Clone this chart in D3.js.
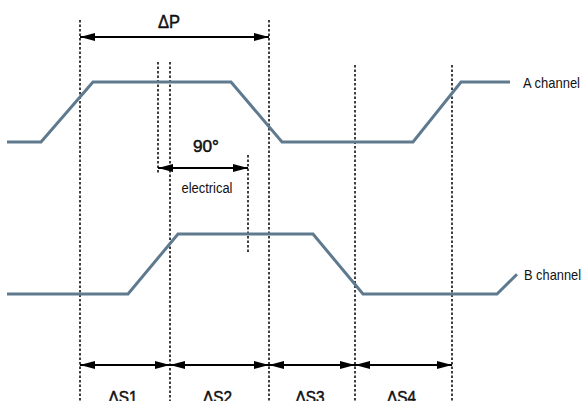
<!DOCTYPE html>
<html>
<head>
<meta charset="utf-8">
<script src="https://cdn.jsdelivr.net/npm/d3@7"></script>
<style>
  body { margin: 0; background: #fff; }
  text { font-family: "Liberation Sans", Arial, sans-serif; fill: #111; }
  text.medium { stroke: #111; stroke-width: 0.5px; }
</style>
</head>
<body>
<div class="chart"></div>
<script>
// svg dims
var width = 582;
var height = 401;

// signal vertices: [time, level]  (level 0 = low, 1 = high)
var channelA = [[7, 0], [41, 0], [93, 1], [231, 1], [282, 0], [413, 0], [461, 1], [510, 1]];
var channelB = [[7, 0], [128, 0], [178, 1], [313, 1], [363, 0], [497, 0], [517, 0.33]];
var channelNames = ["A channel", "B channel"];

// dashed guides: [time, top, bottom]
var guides = [[80, 20, 401], [269, 20, 401], [158, 62, 174], [170, 62, 401], [248, 155, 254], [355, 65, 401], [452, 65, 401]];

// dimension arrows
var periodArrow = [80, 269];
var phaseArrow = [158, 248];
var stepEdges = [80, 170, 269, 355, 452];
var stepLabels = ["ΔS1", "ΔS2", "ΔS3", "ΔS4"];

var svg = d3.select(".chart")
            .append("svg")
            .attr("width", width)
            .attr("height", height);

// scales
var xScale = d3.scaleLinear().domain([0, 582]).range([0, width]);
var yA = d3.scaleLinear().domain([0, 1]).range([142, 82]);
var yB = d3.scaleLinear().domain([0, 1]).range([294, 234]);

// arrowhead markers
var defs = svg.append("defs");
["start", "end"].forEach(k => {
  defs.append("marker")
      .attr("id", "arrow-" + k)
      .attr("viewBox", "0 0 15 8")
      .attr("refX", k == "end" ? 15 : 0)
      .attr("refY", 4)
      .attr("markerUnits", "userSpaceOnUse")
      .attr("markerWidth", 15)
      .attr("markerHeight", 8)
      .attr("orient", "auto")
      .append("path")
      .attr("d", k == "end" ? "M0,0L15,4L0,8Z" : "M15,0L0,4L15,8Z")
      .attr("fill", "#000");
});

// dashed guides
svg.append("g")
   .selectAll("line")
   .data(guides)
   .enter()
   .append("line")
   .attr("x1", d => xScale(d[0]))
   .attr("x2", d => xScale(d[0]))
   .attr("y1", d => d[1])
   .attr("y2", d => d[2])
   .attr("stroke", "#000")
   .attr("stroke-width", 1.5)
   .attr("stroke-dasharray", "2.5,2");

// signals
var line = d3.line();
[[channelA, yA], [channelB, yB]].forEach(s => {
  svg.append("path")
     .attr("d", line(s[0].map(p => [xScale(p[0]), s[1](p[1])])))
     .attr("fill", "none")
     .attr("stroke", "#5f7a8e")
     .attr("stroke-width", 3)
     .attr("stroke-linejoin", "miter");
});

// narrow text helper (condensed look via textLength)
function label(x, y, size, len, str, cls, anchor) {
  return svg.append("text")
            .attr("x", x).attr("y", y)
            .attr("text-anchor", anchor || "start")
            .attr("class", cls || null)
            .attr("textLength", len)
            .attr("lengthAdjust", "spacingAndGlyphs")
            .style("font-size", size + "px")
            .text(str);
}

// channel labels
label(523, 88, 15, 57, channelNames[0]);
label(524, 280, 15, 57, channelNames[1]);

function arrow(x0, x1, y) {
  svg.append("line")
     .attr("x1", xScale(x0)).attr("x2", xScale(x1))
     .attr("y1", y).attr("y2", y)
     .attr("stroke", "#000")
     .attr("stroke-width", 2)
     .attr("marker-start", "url(#arrow-start)")
     .attr("marker-end", "url(#arrow-end)");
}

// period
arrow(periodArrow[0], periodArrow[1], 37);
label(169, 28, 18, 22, "ΔP", "medium", "middle");

// phase shift
arrow(phaseArrow[0], phaseArrow[1], 168);
label(206, 152, 17, 26, "90°", "medium", "middle");
label(207, 193, 14, 51, "electrical", null, "middle");

// steps
d3.pairs(stepEdges).forEach((p, i) => {
  arrow(p[0], p[1], 365);
  label(xScale((p[0] + p[1]) / 2) - 2, 403, 17, 29, stepLabels[i], "medium", "middle");
});
</script>
</body>
</html>
